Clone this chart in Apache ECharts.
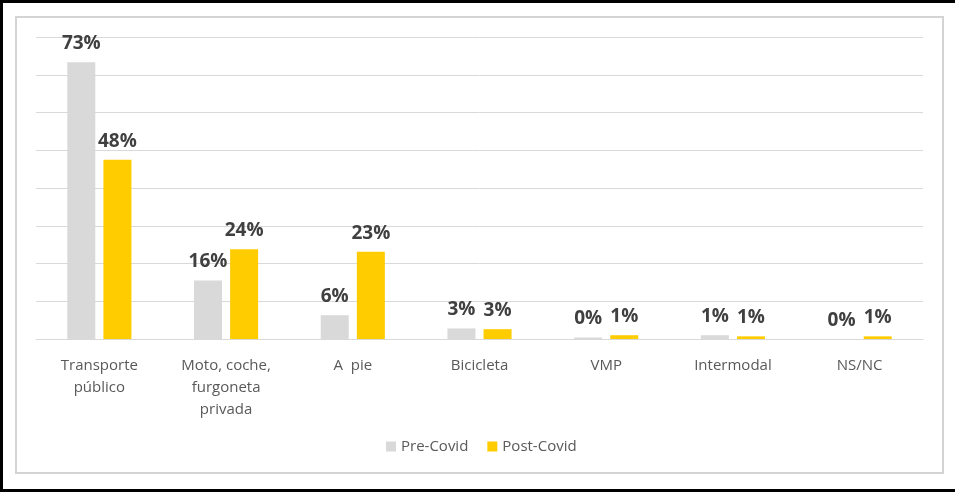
<!DOCTYPE html>
<html>
<head>
<meta charset="utf-8">
<script src="https://cdn.jsdelivr.net/npm/echarts@6/dist/echarts.min.js"></script>
<style>
html,body{margin:0;padding:0;background:#fff;}
#chart{width:955px;height:492px;}
</style>
</head>
<body>
<div id="chart"></div>
<script>
const categories = ['Transporte\npúblico', 'Moto, coche,\nfurgoneta\nprivada', 'A  pie', 'Bicicleta', 'VMP', 'Intermodal', 'NS/NC'];
const preCovid = [73.3, 15.5, 6.3, 2.8, 0.4, 1.0, 0];
const postCovid = [47.5, 23.8, 23.1, 2.6, 1.0, 0.7, 0.7];
const seriesNames = ['Pre-Covid', 'Post-Covid'];
const yTicks = {min: 0, max: 80, interval: 10};

const chart = echarts.init(document.getElementById('chart'), null, {renderer: 'canvas'});
const labelStyle = {
  show: true,
  position: 'top',
  distance: 9,
  fontFamily: 'Open Sans',
  fontWeight: 'bold',
  fontSize: 19,
  color: '#404040',
  formatter: p => Math.round(p.value) + '%'
};
chart.setOption({
  animation: false,
  backgroundColor: '#ffffff',
  graphic: [
    {type: 'rect', shape: {x: 16, y: 17, width: 927, height: 456}, style: {fill: 'none', stroke: '#D4D4D4', lineWidth: 2}, z: 0},
    {type: 'rect', shape: {x: 0, y: 0, width: 3, height: 492}, style: {fill: '#000'}},
    {type: 'rect', shape: {x: 0, y: 0, width: 955, height: 3}, style: {fill: '#000'}},
    {type: 'rect', shape: {x: 0, y: 489, width: 955, height: 3}, style: {fill: '#000'}}
  ],
  grid: {left: 36, right: 32, top: 37, bottom: 153},
  legend: {
    data: seriesNames,
    left: 381,
    top: 434,
    icon: 'rect',
    itemWidth: 10,
    itemHeight: 10,
    itemGap: 19,
    textStyle: {fontFamily: 'Open Sans', fontSize: 15, color: '#595959'}
  },
  xAxis: {
    type: 'category',
    data: categories,
    axisLine: {show: true, lineStyle: {color: '#D9D9D9', width: 1}},
    axisTick: {show: false},
    axisLabel: {
      interval: 0,
      margin: 16,
      fontFamily: 'Open Sans',
      fontSize: 15,
      lineHeight: 22,
      color: '#595959'
    }
  },
  yAxis: {
    type: 'value',
    min: yTicks.min,
    max: yTicks.max,
    interval: yTicks.interval,
    axisLabel: {show: false},
    axisLine: {show: false},
    axisTick: {show: false},
    splitLine: {lineStyle: {color: '#D9D9D9', width: 1}}
  },
  series: [
    {name: seriesNames[0], type: 'bar', data: preCovid, barWidth: 28, barGap: '29%', itemStyle: {color: '#D9D9D9'}, label: labelStyle},
    {name: seriesNames[1], type: 'bar', data: postCovid, barWidth: 28, barGap: '29%', itemStyle: {color: '#FFCC00'}, label: labelStyle}
  ]
});
</script>
</body>
</html>
